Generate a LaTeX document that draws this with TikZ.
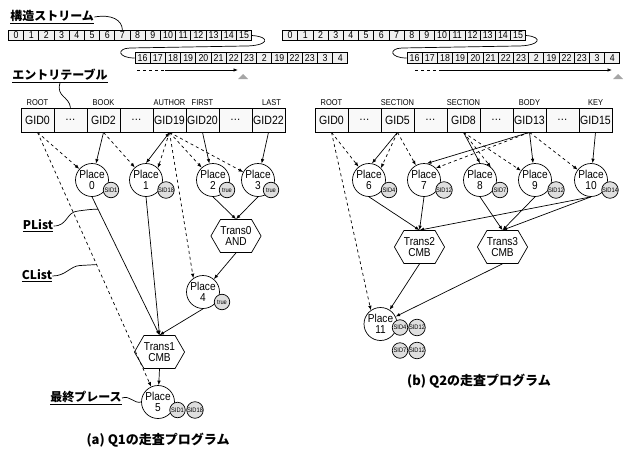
\documentclass[tikz,border=0pt]{standalone}
\usepackage{fontspec}
\setmainfont{Liberation Sans}[FakeStretch=0.88]
\newfontfamily\jpfont{Noto Sans CJK JP}
\usetikzlibrary{positioning,arrows.meta,calc,shapes.symbols}

\begin{document}
\begin{tikzpicture}[x=1pt, y=-1pt, line width=0.7pt,
  cell/.style={draw, fill=gray!12, minimum width=15.2pt, minimum height=10.5pt, inner sep=0pt, font=\fontsize{10}{10}\selectfont},
  gid/.style={draw, fill=gray!5, minimum width=33pt, minimum height=24pt, inner sep=0pt, font=\fontsize{12}{12}\selectfont},
  tag/.style={inner sep=0pt, font=\fontsize{8.5}{8.5}\selectfont},
  place/.style={draw, circle, fill=white, minimum size=33pt, inner sep=0pt, align=center, font=\fontsize{11.5}{11}\selectfont},
  sid/.style={draw, circle, fill=gray!25, minimum size=15.5pt, inner sep=0pt, font=\fontsize{6.5}{6.5}\selectfont},
  trans/.style={draw, fill=white, signal, signal to=west and east, signal pointer angle=120, minimum width=45pt, minimum height=33pt, inner sep=0pt, align=center, font=\fontsize{11.5}{11}\selectfont},
  lab/.style={inner sep=0pt, font=\jpfont\bfseries\fontsize{12}{12}\selectfont},
  captxt/.style={inner sep=0pt, font=\jpfont\bfseries\fontsize{13}{13}\selectfont},
  pl/.style={-{Latex[length=4.5pt,width=3.5pt]}},
  plboth/.style={{Latex[length=4.5pt,width=3.5pt]}-{Latex[length=4.5pt,width=3.5pt]}},
  cl/.style={pl, dashed}]
\useasboundingbox (0,0) rectangle (624,450);

% structure streams
\node[lab, anchor=west] (streamlab) at (10,17) {\underline{構造ストリーム}};
\foreach \i in {0,...,15} {
  \node[cell] (la\i) at (16+15.2*\i,35.5) {\i};
  \node[cell] (ra\i) at (290.1+15.2*\i,35.5) {\i};
}
\foreach \v [count=\i from 0] in {16,17,18,19,20,21,22,23,2,19,22,23,3,4} {
  \node[cell] (lb\i) at (142.6+15.2*\i,58) {\v};
  \node[cell] (rb\i) at (414.6+15.2*\i,58) {\v};
}
\draw (streamlab.east) .. controls (112,14) and (122,20) .. (la7.north);
\draw (la15.east) .. controls (272,37) and (268,46) .. (245,46) -- (130,48) .. controls (116,48.5) and (118,58) .. (lb0.west);
\draw (ra15.east) .. controls (544,37) and (540,46) .. (517,46) -- (402,48) .. controls (388,48.5) and (390,58) .. (rb0.west);
\coordinate (lgo) at (137,70);
\coordinate (lstop) at (238,70);
\coordinate (rgo) at (415,70);
\coordinate (rstop) at (612,70);
\draw[dashed] (lgo) -- ++(28,0) coordinate (lgo2);
\draw[pl] (lgo2) -- (lstop);
\draw[dashed] (rgo) -- ++(25,0) coordinate (rgo2);
\draw[pl] (rgo2) -- (rstop);
\fill[gray!70] (238,79) -- (243,74) -- (248,79) -- cycle;
\fill[gray!70] (613,79) -- (618,74) -- (623,79) -- cycle;

% entry tables
\node[lab, anchor=west] (tablab) at (12,76) {\underline{エントリテーブル}};
\foreach \t [count=\i from 0] in {GID0,\dots,GID2,\dots,GID19,GID20,\dots,GID22}
  \node[gid] (lg\i) at (37.5+33*\i,120) {\t};
\foreach \t [count=\i from 0] in {GID0,\dots,GID5,\dots,GID8,\dots,GID13,\dots,GID15}
  \node[gid] (rg\i) at (331.5+33*\i,120) {\t};
\draw (tablab.south) .. controls (56,97) and (69,96) .. (lg1.north);
\node[tag, above=2pt of lg0] (lroot) {ROOT};
\node[tag, above=2pt of lg2] (lbook) {BOOK};
\node[tag, above=2pt of lg4] (lauthor) {AUTHOR};
\node[tag, above=2pt of lg5] (lfirst) {FIRST};
\node[tag, above=2pt of lg7, xshift=3pt] (llast) {LAST};
\node[tag, above=2pt of rg0] (rroot) {ROOT};
\node[tag, above=2pt of rg2] (rsec1) {SECTION};
\node[tag, above=2pt of rg4] (rsec2) {SECTION};
\node[tag, above=2pt of rg6] (rbody) {BODY};
\node[tag, above=2pt of rg8] (rkey) {KEY};

% program of Q1
\node[place] (p0) at (92,180) {Place\\0};
\node[place] (p1) at (146,180) {Place\\1};
\node[place] (p2) at (213,180) {Place\\2};
\node[place] (p3) at (258,180) {Place\\3};
\node[trans] (t0) at (236,236) {Trans0\\AND};
\node[place] (p4) at (203,292) {Place\\4};
\node[trans] (t1) at (159.5,352) {Trans1\\CMB};
\node[place] (p5) at (158,402) {Place\\5};
\node[sid] (s0) at (111,190) {SID1};
\node[sid] (s1) at (166,190) {SID18};
\node[sid] (s2) at (227,190) {true};
\node[sid] (s3) at (271,190) {true};
\node[sid] (s4) at (222,302) {true};
\node[sid] (s5a) at (177.5,410) {SID1};
\node[sid] (s5b) at (195,410) {SID18};

\draw[cl] (lg0.south) -- (p0);
\draw[cl] (lg0.south) -- (p5);
\draw[pl] (lg2.south) -- (p0);
\draw[cl] (lg2.south) -- (p1);
\draw[plboth] (lg4.south) -- (p1.north);
\draw[cl] (lg4.south) -- (p1.45);
\draw[cl] (lg4.south) -- (p4.125);
\draw[cl] (lg4.south) -- (p2);
\draw[cl] (lg4.south) -- (p3);
\draw[pl] (lg5.south) -- (p2);
\draw[pl] (lg7.south) -- (p3);
\draw[pl] (p2.south) -- (t0.north);
\draw[pl] (p3.south) -- (t0.north);
\draw[pl] (t0.south) -- (p4);
\draw[pl] (p0.south) -- (t1.north);
\draw[pl] (p1.south) -- (t1.north);
\draw[pl] (p4.south) -- (t1.north);
\draw[pl] (t1.south) -- (p5);

\path (p0.south) -- (t1.north) coordinate[pos=0.09] (pmid);
\path (lg0.south) -- (p5) coordinate[pos=0.52] (cmid);
\node[lab] (plist) at (38,226) {\underline{PList}};
\node[lab] (clist) at (37,276) {\underline{CList}};
\node[lab, anchor=east] (lastlab) at (122,398) {\underline{最終プレース}};
\draw (plist.east) .. controls (68,226) and (66,212) .. (78,211) .. controls (86,210) and (92,209) .. (pmid);
\draw (clist.east) .. controls (66,276) and (70,266) .. (80,265.5) -- (cmid);
\draw (lastlab.east) .. controls (130,395) and (134,404) .. (p5.west);
\node[captxt] (capa) at (158,440) {(a) Q1の走査プログラム};

% program of Q2
\node[place] (p6) at (369,180) {Place\\6};
\node[place] (p7) at (424,180) {Place\\7};
\node[place] (p8) at (480,180) {Place\\8};
\node[place] (p9) at (535,180) {Place\\9};
\node[place] (p10) at (591,180) {Place\\10};
\node[trans] (t2) at (419.5,247) {Trans2\\CMB};
\node[trans] (t3) at (502.5,247) {Trans3\\CMB};
\node[place] (p11) at (380.5,324) {Place\\11};
\node[sid] (s6) at (389,190) {SID4};
\node[sid] (s7) at (444,190) {SID12};
\node[sid] (s8) at (500,190) {SID7};
\node[sid] (s9) at (556,190) {SID12};
\node[sid] (s10) at (610,190) {SID14};
\node[sid] (s11a) at (400,327.5) {SID4};
\node[sid] (s11b) at (417,327.5) {SID12};
\node[sid] (s11c) at (400,350.5) {SID7};
\node[sid] (s11d) at (417,350.5) {SID12};

\draw[cl] (rg0.south) -- (p6);
\draw[cl] (rg0.south) -- (p11.125);
\draw[pl] (rg2.south) -- (p6.80);
\draw[cl] (rg2.south) -- (p6.45);
\draw[cl] (rg2.south) -- (p7);
\draw[pl] (rg4.south) -- (p8.north);
\draw[cl] (rg4.south) -- (p8.50);
\draw[cl] (rg4.south) -- (p9);
\draw[pl] (rg6.south) -- (p7.80);
\draw[cl] (rg6.south) -- (p7.45);
\draw[pl] (rg6.south) -- (p9);
\draw[cl] (rg6.south) -- (p10);
\draw[pl] (rg8.south) -- (p10);
\draw[pl] (p6.south) -- (t2.north);
\draw[pl] (p7.south) -- (t2.north);
\draw[pl] (p10.south) -- (t2.north);
\draw[pl] (p8.south) -- (t3.north);
\draw[pl] (p9.south) -- (t3.north);
\draw[pl] (p10.south) -- (t3.north);
\draw[pl] (t2.south) -- (p11);
\draw[pl] (t3.south) -- (p11);
\node[captxt] (capb) at (479,381) {(b) Q2の走査プログラム};
\end{tikzpicture}
\end{document}
